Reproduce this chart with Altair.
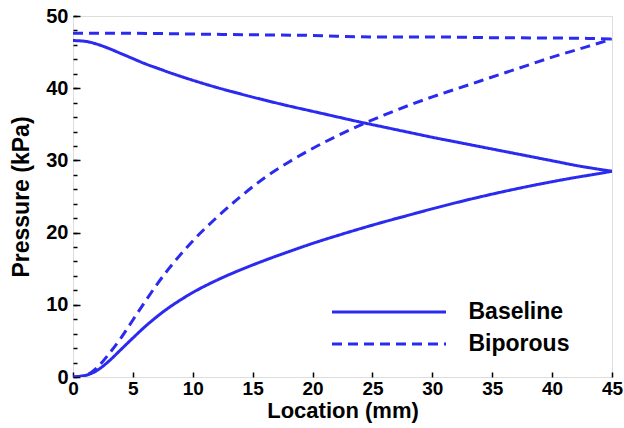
import altair as alt
import pandas as pd

# ---- data ----
base_low_x = [0, 1, 2, 3, 4, 5, 6, 7, 8, 9, 10, 12, 14, 16, 18, 20, 22, 24, 26, 28, 30, 32, 34, 36, 38, 40, 42, 44, 45]
base_low_y = [0, 0.2, 0.9, 2.2, 3.8, 5.4, 6.95, 8.35, 9.6, 10.7, 11.7, 13.4, 14.85, 16.15, 17.35, 18.5, 19.55, 20.55, 21.5, 22.4, 23.3, 24.15, 24.95, 25.7, 26.4, 27.05, 27.65, 28.2, 28.5]

base_up_x = [0, 1, 2, 3, 4, 5, 6, 7, 8, 10, 12, 14, 16, 18, 20, 22, 24, 26, 28, 30, 32, 34, 36, 38, 40, 42, 44, 45]
base_up_y = [46.6, 46.5, 46.1, 45.5, 44.8, 44.1, 43.4, 42.8, 42.2, 41.1, 40.1, 39.2, 38.35, 37.55, 36.8, 36.05, 35.3, 34.6, 33.9, 33.2, 32.55, 31.9, 31.25, 30.6, 29.95, 29.3, 28.75, 28.5]

bip_low_x = [0, 1, 2, 3, 4, 5, 6, 7, 8, 9, 10, 12, 14, 16, 18, 20, 22, 24, 26, 28, 30, 32, 34, 36, 38, 40, 42, 44, 45]
bip_low_y = [0, 0.2, 1.3, 3.2, 5.4, 7.9, 10.4, 12.8, 15.0, 17.0, 18.85, 22.1, 25.0, 27.6, 29.75, 31.65, 33.35, 34.9, 36.3, 37.6, 38.8, 39.9, 41.0, 42.1, 43.2, 44.3, 45.3, 46.3, 46.8]

bip_up_x = [0, 5, 10, 15, 20, 22, 25, 30, 35, 40, 43, 45]
bip_up_y = [47.6, 47.6, 47.5, 47.4, 47.3, 47.2, 47.1, 47.1, 47.0, 46.95, 46.9, 46.8]

series_names = ["Baseline", "Biporous"]
x_ticks = [0, 5, 10, 15, 20, 25, 30, 35, 40, 45]
y_ticks = [0, 10, 20, 30, 40, 50]
y_minor = list(range(0, 51, 2))

rows = []
for xs, ys, s, b in [(base_low_x, base_low_y, "Baseline", "low"),
                     (base_up_x, base_up_y, "Baseline", "up"),
                     (bip_low_x, bip_low_y, "Biporous", "low"),
                     (bip_up_x, bip_up_y, "Biporous", "up")]:
    for xv, yv in zip(xs, ys):
        rows.append({"x": xv, "y": yv, "series": s, "branch": s + b})
df = pd.DataFrame(rows)

BLUE = "#2b2bf0"
FONT = "Liberation Sans"

xscale = alt.Scale(domain=[0, 45], nice=False, zero=False)
yscale = alt.Scale(domain=[0, 50], nice=False, zero=False)

lines = alt.Chart(df).mark_line(color=BLUE, strokeWidth=3, interpolate="monotone", clip=True).encode(
    x=alt.X("x:Q", scale=xscale, axis=alt.Axis(
        values=x_ticks, tickSize=5, offset=-5, domain=False, grid=False,
        labelFont=FONT, labelFontSize=19, labelFontWeight="bold", labelColor="black",
        labelPadding=2, labelFlush=False, tickColor="black", tickWidth=1.5,
        title="Location (mm)", titleFont=FONT, titleFontSize=22, titleFontWeight="bold",
        titleColor="black", titlePadding=2, orient="bottom")),
    y=alt.Y("y:Q", scale=yscale, axis=alt.Axis(
        values=y_ticks, tickSize=7, offset=-7, domain=False, grid=False,
        labelFont=FONT, labelFontSize=20, labelFontWeight="bold", labelColor="black",
        labelPadding=5, labelFlush=False, tickColor="black", tickWidth=1.5,
        title="Pressure (kPa)", titleFont=FONT, titleFontSize=23, titleFontWeight="bold",
        titleColor="black", titlePadding=12, orient="left")),
    detail="branch:N",
    strokeDash=alt.StrokeDash("series:N", scale=alt.Scale(domain=series_names, range=[[1, 0], [10, 6]]),
                              legend=alt.Legend(
                                  title=None, orient="none", legendX=304.5, legendY=284.5,
                                  symbolType="M-6,0H6", symbolSize=361, symbolStrokeWidth=3,
                                  symbolStrokeColor=BLUE, labelFont=FONT, labelFontSize=23,
                                  labelFontWeight="bold", labelColor="black", labelOffset=68,
                                  rowPadding=8, padding=0)),
)

minor = alt.Chart(df).mark_point(opacity=0).encode(
    x=alt.X("x:Q", scale=xscale, axis=None),
    y=alt.Y("y:Q", scale=yscale, axis=alt.Axis(
        values=y_minor, tickSize=4, offset=-4, domain=False, grid=False, labels=False,
        title=None, tickColor="black", tickWidth=1.5, orient="left")),
)

chart = alt.layer(lines, minor).resolve_axis(x="independent", y="independent").properties(
    width=539, height=361,
    autosize=alt.AutoSizeParams(type="none"),
    padding={"left": 73, "top": 16, "right": 12, "bottom": 51},
).configure_view(stroke="black", strokeWidth=2).configure(background="white")

chart.save("out.html", embed_options={"renderer": "svg", "actions": False})
